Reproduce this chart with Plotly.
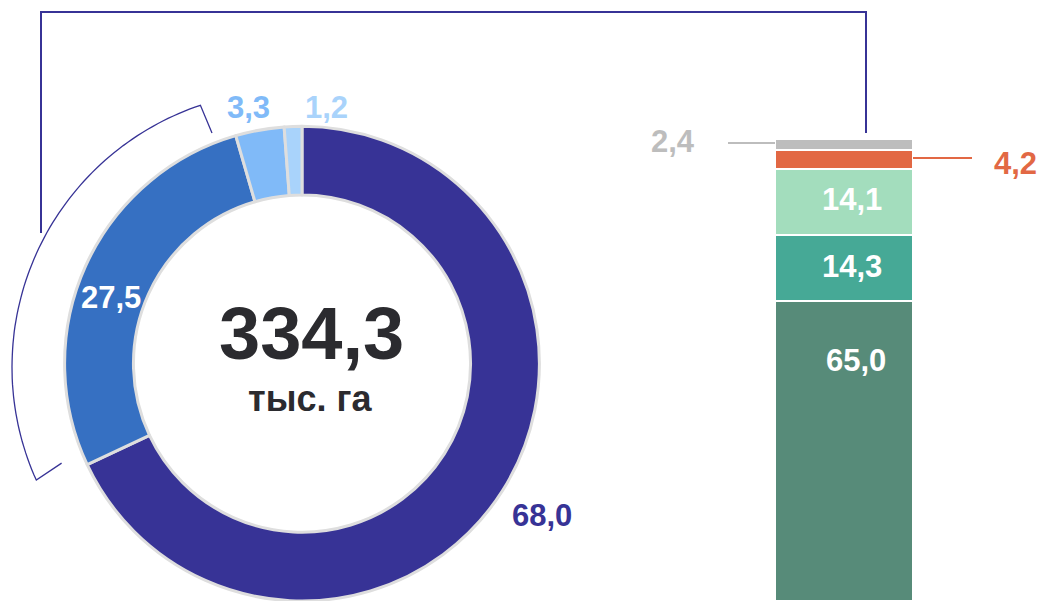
import numpy as np
import plotly.graph_objects as go

# ---- data ----
donut_labels = ["A", "B", "C", "D"]
donut_values = [68.0, 27.5, 3.3, 1.2]
donut_colors = ["#373396", "#3670C2", "#80BAF8", "#A9D3FB"]
donut_text = ["68,0", "27,5", "3,3", "1,2"]

bar_names = ["s1", "s2", "s3", "s4", "s5"]
bar_values = [65.0, 14.3, 14.1, 4.2, 2.4]
bar_colors = ["#578B79", "#46A996", "#A3DDBD", "#E26844", "#BDBDBD"]
bar_text = ["65,0", "14,3", "14,1", "4,2", "2,4"]

total_text = "334,3"
unit_text = "тыс. га"

W, H = 1042, 601
FONT = "Liberation Sans, Arial, sans-serif"
NAVY = "#373396"
LBL = 31

fig = go.Figure()

# donut
fig.add_trace(go.Pie(
    labels=donut_labels, values=donut_values, sort=False, direction="clockwise",
    rotation=0, hole=0.71, textinfo="none", hoverinfo="skip",
    marker=dict(colors=donut_colors, line=dict(color="#DEDEDE", width=3)),
    domain=dict(x=[64 / W, 540 / W], y=[0, 0.79]), showlegend=False,
))

# stacked bar
for name, v, c in zip(bar_names, bar_values, bar_colors):
    fig.add_trace(go.Bar(
        x=[0], y=[v], name=name, marker=dict(color=c, line=dict(color="white", width=2)),
        width=1, xaxis="x2", yaxis="y2", showlegend=False, hoverinfo="skip",
    ))

# invisible full-page axis in pixel units for decorations
fig.add_trace(go.Scatter(x=[0, W], y=[0, H], mode="markers", marker=dict(opacity=0),
                         xaxis="x3", yaxis="y3", showlegend=False, hoverinfo="skip"))

shapes = []
def line(x0, y0, x1, y1, color, width):
    shapes.append(dict(type="line", xref="x3", yref="y3", x0=x0, y0=y0, x1=x1, y1=y1,
                       line=dict(color=color, width=width)))

# bracket connecting donut to bar
shapes.append(dict(type="path", xref="x3", yref="y3",
                   path="M 41 233 L 41 12 L 866 12 L 866 133",
                   line=dict(color=NAVY, width=2)))

# thin arc around the 27,5 segment
cx, cy, r, r_in = 288, 367, 276, 246
a0, a1 = np.radians(18.5), np.radians(114.2)
ang = np.linspace(a0, a1, 80)
pts = [(cx - r * np.sin(a), cy - r * np.cos(a)) for a in ang]
p_start_in = (cx - r_in * np.sin(np.radians(18)), cy - r_in * np.cos(np.radians(18)))
p_end_in = (cx - r_in * np.sin(np.radians(113)), cy - r_in * np.cos(np.radians(113)))
path = f"M {p_start_in[0]:.1f} {p_start_in[1]:.1f} " + " ".join(
    f"L {x:.1f} {y:.1f}" for x, y in pts) + f" L {p_end_in[0]:.1f} {p_end_in[1]:.1f}"
shapes.append(dict(type="path", xref="x3", yref="y3", path=path,
                   line=dict(color=NAVY, width=1.3)))

# leader lines for small bar segments
line(728, 143, 775, 143, "#BDBDBD", 2)
line(913, 158, 972, 158, "#E26844", 2)

annotations = []
def ann(x, y, text, color, size):
    annotations.append(dict(x=x, y=y, xref="x3", yref="y3", text=f"<b>{text}</b>",
                            showarrow=False, font=dict(family=FONT, size=size, color=color),
                            xanchor="center", yanchor="middle"))

ann(311, 333, total_text, "#2B2B2F", 74)
ann(310, 398, unit_text, "#2B2B2F", 36)

ann(542, 515, donut_text[0], donut_colors[0], LBL)
ann(111, 297, donut_text[1], "white", LBL)
ann(248, 107, donut_text[2], donut_colors[2], LBL)
ann(326, 107, donut_text[3], donut_colors[3], LBL)

ann(856, 360, bar_text[0], "white", LBL)
ann(852, 266, bar_text[1], "white", LBL)
ann(852, 199, bar_text[2], "white", LBL)
ann(1015, 163, bar_text[3], bar_colors[3], LBL)
ann(673, 141, bar_text[4], bar_colors[4], LBL)

fig.update_layout(
    width=W, height=H, margin=dict(l=0, r=0, t=0, b=0),
    paper_bgcolor="white", plot_bgcolor="rgba(0,0,0,0)",
    barmode="stack", bargap=0,
    xaxis2=dict(domain=[775 / W, 913 / W], range=[-0.5, 0.5], visible=False, fixedrange=True),
    yaxis2=dict(domain=[0, (H - 139) / H], range=[0, 100], visible=False, fixedrange=True),
    xaxis3=dict(domain=[0, 1], range=[0, W], visible=False, fixedrange=True, anchor="y3"),
    yaxis3=dict(domain=[0, 1], range=[H, 0], visible=False, fixedrange=True, anchor="x3"),
    shapes=shapes, annotations=annotations,
)

fig.write_html("out.html", config={"displayModeBar": False},
               post_script="document.body.style.margin='0';document.body.style.overflow='hidden';")
